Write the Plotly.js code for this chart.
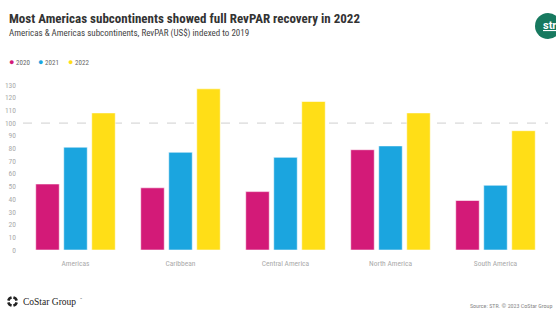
<!DOCTYPE html>
<html>
<head>
<meta charset="utf-8">
<script src="https://cdn.plot.ly/plotly-3.0.1.min.js"></script>
<style>
html,body{margin:0;padding:0;background:#fff;}
#chart{width:556px;height:315px;}
</style>
</head>
<body>
<div id="chart"></div>
<script>
const categories = ["Americas", "Caribbean", "Central America", "North America", "South America"];
const years = ["2020", "2021", "2022"];
const values2020 = [52, 49, 46, 79, 39];
const values2021 = [81, 77, 73, 82, 51];
const values2022 = [108, 127, 117, 108, 94];
const colors = ["#d31a78", "#1ba5df", "#ffde17"];
const yTicks = [0, 10, 20, 30, 40, 50, 60, 70, 80, 90, 100, 110, 120, 130];
const baseline = 100;

const W = 556, H = 315;
const M = {l: 23, r: 8, t: 85, b: 65};
const pw = W - M.l - M.r, ph = H - M.t - M.b;
const px = v => (v - M.l) / pw;
const py = v => (H - M.b - v) / ph;

const series = [values2020, values2021, values2022];
const traces = series.map((vals, i) => ({
  type: "bar",
  name: years[i],
  x: categories,
  y: vals,
  marker: {color: colors[i], line: {color: "rgba(255,255,255,0.55)", width: 1}},
  showlegend: false,
  hoverinfo: "skip"
}));

const narrow = "'Liberation Sans Narrow', 'Roboto Condensed', 'Arial Narrow', Roboto, sans-serif";

function ann(x, y, xa, ya, text, font) {
  return {xref: "paper", yref: "paper", x: px(x), y: py(y), xanchor: xa, yanchor: ya,
          text: text, showarrow: false, font: font};
}

const annotations = [
  ann(7, 9, "left", "top", "<b>Most Americas subcontinents showed full RevPAR recovery in 2022</b>",
      {family: narrow, size: 13, color: "#333"}),
  ann(7, 26, "left", "top", "Americas & Americas subcontinents, RevPAR (US$) indexed to 2019",
      {family: narrow, size: 9, color: "#444"}),
  ann(554, 311, "right", "bottom", "Source: STR. © 2023 CoStar Group",
      {family: narrow, size: 6, color: "#888"}),
  ann(21, 302, "left", "middle", "CoStar Group",
      {family: "'Liberation Serif', 'DejaVu Serif', serif", size: 9.5, color: "#222"}),
  ann(78, 299, "left", "middle", "™",
      {family: narrow, size: 4, color: "#666"}),
  ann(541, 26, "left", "middle", "<b><u>str</u></b>",
      {family: "Roboto, sans-serif", size: 11, color: "#fff"})
];

const legX = [7, 36, 66];
years.forEach((yr, i) => {
  annotations.push(ann(legX[i], 62, "left", "middle",
    "<span style='color:" + colors[i] + ";font-size:9px'>●</span> " + yr,
    {family: narrow, size: 7, color: "#666"}));
});

// CoStar logo: four arc segments forming a ring
const cx = 12.5, cy = 301.5, r = 4.2;
const logoShapes = [0, 1, 2, 3].map(k => {
  const a0 = (k * 90 + 12) * Math.PI / 180, a1 = (k * 90 + 78) * Math.PI / 180;
  const pts = [];
  for (let j = 0; j <= 6; j++) {
    const a = a0 + (a1 - a0) * j / 6;
    pts.push(px(cx + r * Math.cos(a)).toFixed(5) + "," + py(cy + r * Math.sin(a)).toFixed(5));
  }
  return {type: "path", xref: "paper", yref: "paper", path: "M" + pts.join("L"),
          line: {color: "#222", width: 2.6}};
});

const layout = {
  width: W, height: H,
  paper_bgcolor: "#fff", plot_bgcolor: "#fff",
  margin: {l: M.l, r: M.r, t: M.t, b: M.b, pad: 0},
  barmode: "group", bargap: 0.2, bargroupgap: 0.16,
  showlegend: false,
  font: {family: narrow, color: "#999"},
  xaxis: {
    type: "category", showgrid: false, zeroline: false, showline: false,
    ticks: "", tickfont: {size: 7.5, color: "#aaa", family: narrow}, ticklabelstandoff: 7
  },
  yaxis: {
    range: [0, 130], tickvals: yTicks, showgrid: false, zeroline: false, showline: false,
    ticks: "", tickfont: {size: 7.5, color: "#aaa", family: narrow}, ticklabelstandoff: 6
  },
  shapes: [
    {type: "line", xref: "paper", yref: "y", x0: 0, x1: 1, y0: baseline, y1: baseline,
     line: {color: "#cfcfcf", width: 1, dash: "dash"}, layer: "below"},
    {type: "circle", xref: "paper", yref: "paper", x0: px(535), x1: px(561), y0: py(13), y1: py(39),
     fillcolor: "#17795f", line: {width: 0}}
  ].concat(logoShapes),
  annotations: annotations
};

Plotly.newPlot("chart", traces, layout, {staticPlot: true});
</script>
</body>
</html>
